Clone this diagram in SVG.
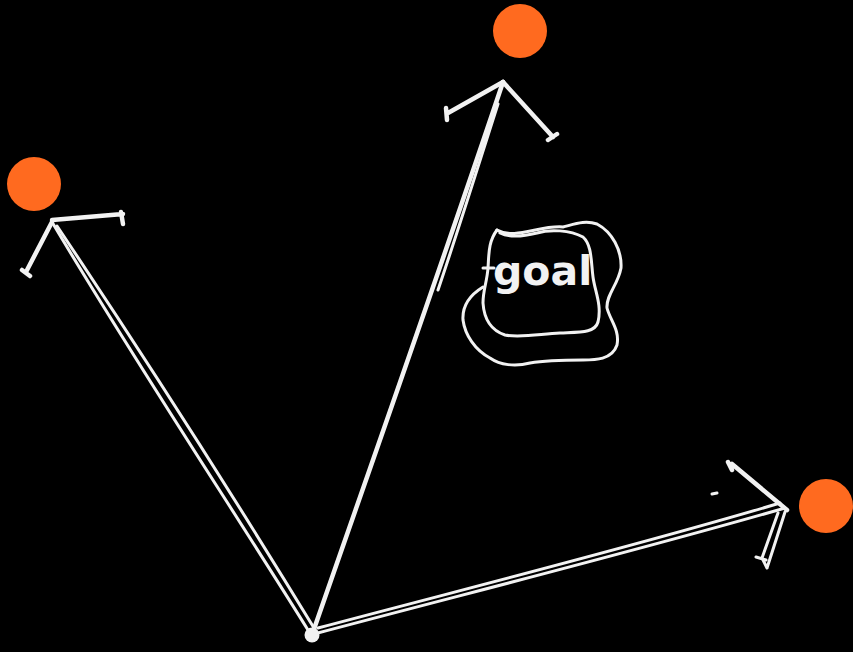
<svg xmlns="http://www.w3.org/2000/svg" width="853" height="652" viewBox="0 0 853 652">
<style>
.s{fill:none;stroke:#f2f2f2;stroke-width:3;stroke-linecap:round;stroke-linejoin:round}
.t{fill:none;stroke:#f2f2f2;stroke-width:4.5;stroke-linecap:round;stroke-linejoin:round}
.dot{fill:#ff6a1f}
.lbl{font-family:"DejaVu Sans","Liberation Sans",sans-serif;font-size:41px;font-weight:bold;fill:#f2f2f2;letter-spacing:0px}
</style>
<rect width="853" height="652" fill="#000"/>
<g id="connectors">
  <!-- left arrow -->
  <path class="s" d="M308,630 C240,520 140,370 52,222"/>
  <path class="s" d="M314,628 C245,515 150,365 57,226"/>
  <path class="t" d="M52,220 L123,214 M121,212 L123,224"/>
  <path class="t" d="M52,222 L26,272 M22,270 L30,276"/>
  <!-- middle arrow -->
  <path class="t" d="M313,632 C370,468 440,270 503,82"/>
  <path class="s" d="M498,104 C480,160 460,225 438,290"/>
  <path class="t" d="M503,82 L448,113 M446,108 L447,120"/>
  <path class="t" d="M503,82 L553,137 M548,140 L557,134"/>
  <!-- right arrow -->
  <path class="s" d="M314,634 C480,590 640,550 785,508"/>
  <path class="s" d="M318,628 C480,585 640,545 780,503"/>
  <path class="t" d="M787,510 L732,464 M728,462 L732,470"/>
  <path class="s" d="M785,512 L767,568 M778,513 L762,558 L767,568 M756,557 L766,560"/>
  <path class="s" d="M712,494 L717,493"/>
  <circle cx="312" cy="635" r="7.5" fill="#f2f2f2"/>
</g>
<g id="end-left"><circle class="dot" cx="34" cy="184" r="27"/></g>
<g id="end-top"><circle class="dot" cx="520" cy="31" r="27"/></g>
<g id="end-right"><circle class="dot" cx="826" cy="506" r="27"/></g>
<g id="goal">
  <path class="s" d="M497,230 C515,240 540,225 563,227 C575,224 585,220 597,224 C612,232 622,250 621,268 C618,285 606,295 607,308 C610,320 620,330 617,345 C612,360 595,360 583,360 C565,360 547,360 530,363 C515,367 500,365 490,358 C475,350 465,335 463,320 C462,305 470,295 483,287"/>
  <path class="s" d="M500,233 C510,238 525,236 537,233 C550,229 570,230 583,237 C592,245 591,262 593,277 C595,292 602,305 598,322 C595,333 580,332 560,333 C540,334 520,338 505,335 C490,330 484,318 483,303 C483,290 487,282 488,268 C489,255 488,242 497,230"/>
  <text class="lbl" x="493" y="285">goal</text>
  <path class="s" d="M483,268 L494,268"/>
</g>
</svg>
